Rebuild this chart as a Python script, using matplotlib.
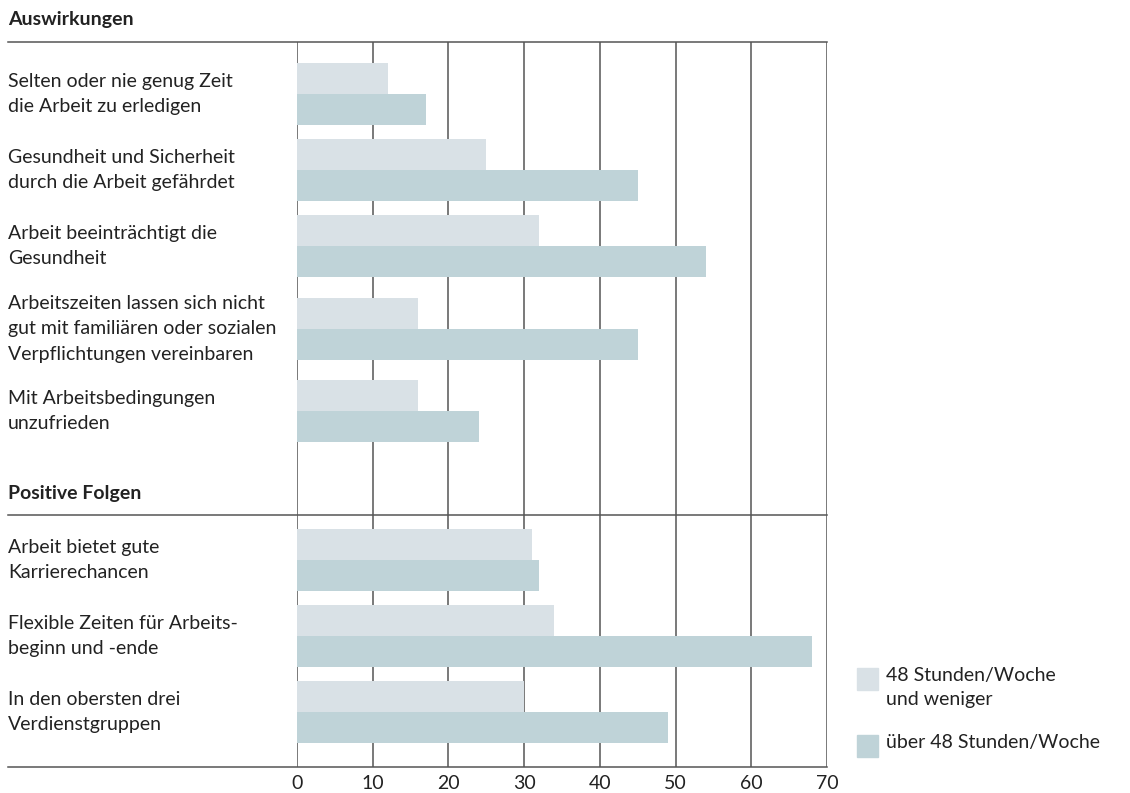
import numpy as np
import matplotlib
matplotlib.use("Agg")
import matplotlib.pyplot as plt
from matplotlib.lines import Line2D
from matplotlib.patches import Rectangle

plt.rcParams['font.family'] = ['Lato', 'DejaVu Sans']

# data
labels = [
    "Selten oder nie genug Zeit\ndie Arbeit zu erledigen",
    "Gesundheit und Sicherheit\ndurch die Arbeit gefährdet",
    "Arbeit beeinträchtigt die\nGesundheit",
    "Arbeitszeiten lassen sich nicht\ngut mit familiären oder sozialen\nVerpflichtungen vereinbaren",
    "Mit Arbeitsbedingungen\nunzufrieden",
    "Arbeit bietet gute\nKarrierechancen",
    "Flexible Zeiten für Arbeits-\nbeginn und -ende",
    "In den obersten drei\nVerdienstgruppen",
]
upto48 = [12, 25, 32, 16, 16, 31, 34, 30]
over48 = [17, 45, 54, 45, 24, 32, 68, 49]
sections = ["Auswirkungen", "Positive Folgen"]
legend_labels = ["48 Stunden/Woche\nund weniger", "über 48 Stunden/Woche"]
ticks = list(range(0, 80, 10))

light = "#d9e1e6"
dark = "#bfd3d8"
grid_col = "#555555"
txt = "#222222"

W, H = 1130, 793
fig = plt.figure(figsize=(W / 100, H / 100), dpi=100)

# layout in pixel units (y measured from top)
x0, x1 = 297, 827
y_top, y_bot = 42, 767
row_centers = [94, 170, 246, 329, 411, 560, 636, 712]
bar_h = 31

ax = fig.add_axes([x0 / W, 1 - y_bot / H, (x1 - x0) / W, (y_bot - y_top) / H])
ax.set_xlim(0, 70)
ax.set_ylim(y_bot, y_top)
for s in ax.spines.values():
    s.set_visible(False)

for t in ticks:
    ax.axvline(t, color=grid_col, lw=1.1, zorder=1)

yc = np.array(row_centers)
ax.barh(yc - bar_h / 2, upto48, height=bar_h, color=light, zorder=2)
ax.barh(yc + bar_h / 2, over48, height=bar_h, color=dark, zorder=2)

ax.set_yticks([])
ax.set_xticks(ticks)
ax.set_xticklabels([str(t) for t in ticks], fontsize=14, color=txt)
ax.tick_params(axis='x', length=0, pad=6)


def fy(py):
    return 1 - py / H


# horizontal rules
for py in [y_top, 515, y_bot]:
    fig.add_artist(Line2D([8 / W, x1 / W], [fy(py), fy(py)], color=grid_col, lw=1.1))

# section headings
fig.text(8 / W, fy(20), sections[0], fontsize=14, fontweight='bold', color=txt, va='center')
fig.text(8 / W, fy(493), sections[1], fontsize=14, fontweight='bold', color=txt, va='center')

# category labels
for lab, c in zip(labels, row_centers):
    fig.text(8 / W, fy(c), lab, fontsize=14, color=txt, va='center', linespacing=1.6)

# legend
for (py, col, lab) in [(679, light, legend_labels[0]), (746, dark, legend_labels[1])]:
    fig.add_artist(Rectangle((857 / W, fy(py + 11)), 21 / W, 22 / H, color=col, transform=fig.transFigure))
    fig.text(886 / W, fy(py - 12), lab, fontsize=14, color=txt, va='top', linespacing=1.5)

fig.savefig("out.png", dpi=100)
